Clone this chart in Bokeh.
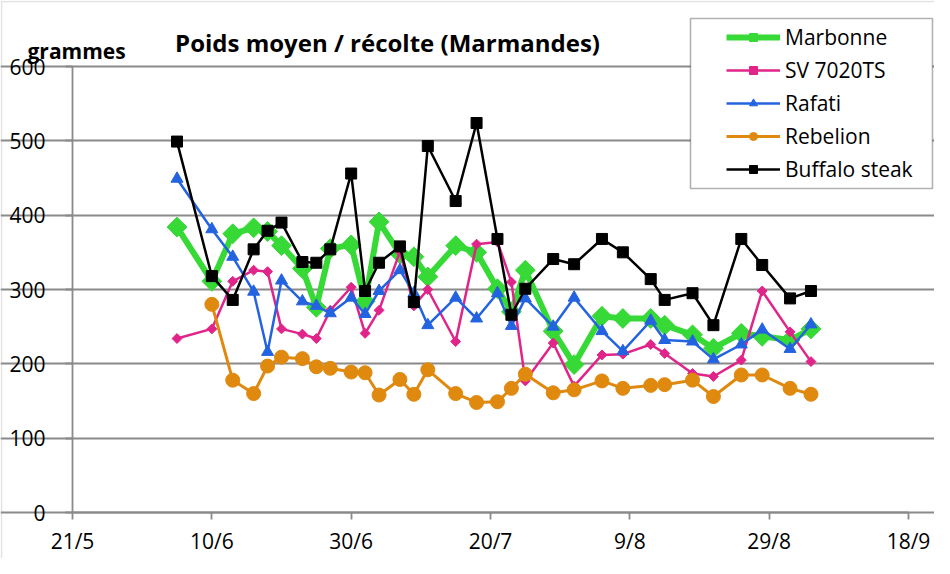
import numpy as np
import pandas as pd
from bokeh.plotting import figure
from bokeh.models import (Range1d, FixedTicker, CustomJSTickFormatter, Label,
                          Legend, BoxAnnotation)
from bokeh.embed import file_html
from bokeh.resources import INLINE

YEAR = "2014"

dates = ["5/6", "10/6", "13/6", "16/6", "18/6", "20/6", "23/6", "25/6", "27/6", "30/6",
         "2/7", "4/7", "7/7", "9/7", "11/7", "15/7", "18/7", "21/7", "23/7", "25/7",
         "29/7", "1/8", "5/8", "8/8", "12/8", "14/8", "18/8", "21/8", "25/8", "28/8",
         "1/9", "4/9"]

marbonne = [384, 311, 375, 383, 378, 359, 328, 276, 355, 360,
            284, 391, 348, 344, 317, 359, 350, 301, 270, 326,
            244, 199, 264, 261, 261, 252, 239, 221, 241, 237,
            232, 247]

sv7020ts = [234, 247, 311, 326, 324, 247, 240, 234, 272, 303,
            241, 272, 351, 278, 300, 230, 361, 364, 310, 177,
            228, 170, 212, 213, 226, 214, 187, 183, 205, 298,
            243, 203]

rafati = [449, 381, 344, 297, 216, 312, 284, 278, 268, 289,
          267, 298, 326, 295, 252, 289, 261, 295, 251, 288,
          250, 289, 244, 217, 258, 232, 230, 206, 226, 246,
          220, 253]

rebelion_dates = dates[1:]
rebelion = [280, 178, 160, 197, 209, 207, 196, 194, 189,
            188, 158, 179, 159, 192, 160, 148, 149, 167, 186,
            161, 165, 177, 167, 171, 172, 178, 156, 185, 185,
            167, 159]

buffalo = [499, 318, 286, 354, 379, 390, 337, 336, 354, 456,
           298, 336, 358, 283, 493, 419, 524, 368, 266, 301,
           341, 334, 368, 350, 314, 286, 295, 252, 368, 333,
           288, 298]

x_ticks = ["21/5", "10/6", "30/6", "20/7", "9/8", "29/8", "18/9"]
y_ticks = [0, 100, 200, 300, 400, 500, 600]


def to_dt(lst):
    return pd.to_datetime([s + "/" + YEAR for s in lst], format="%d/%m/%Y")


xd = to_dt(dates)
xr = to_dt(rebelion_dates)
xt = to_dt(x_ticks)
tick_ms = [float(t.value // 10**6) for t in xt]

# ---- layout (pixels in the canvas) ----
W, H = 934, 558
PL, PR, PT, PB = 72, 908, 66, 512          # plot area edges
x0, x1 = tick_ms[0], tick_ms[-1]
y0, y1 = y_ticks[0], y_ticks[-1]
sx = (x1 - x0) / (PR - PL)
sy = (y1 - y0) / (PB - PT)
x_range = Range1d(x0 - PL * sx, x1 + (W - PR) * sx)
y_range = Range1d(y0 - (H - PB) * sy, y1 + PT * sy)

FONT = "Open Sans"
GRAY = "#8a8a8a"

p = figure(width=W, height=H, output_backend="svg", toolbar_location=None,
           x_axis_type="datetime", x_range=x_range, y_range=y_range,
           min_border_left=0, min_border_right=0, min_border_top=0,
           min_border_bottom=0)
p.outline_line_color = None
p.background_fill_color = "white"
p.border_fill_color = "white"

p.xgrid.visible = False
p.ygrid.grid_line_color = GRAY
p.ygrid.grid_line_width = 1.8
p.ygrid.bounds = (x0, x1)
p.yaxis.ticker = FixedTicker(ticks=y_ticks)
p.xaxis.ticker = FixedTicker(ticks=tick_ms)
p.ygrid.ticker = FixedTicker(ticks=y_ticks)
p.xaxis.formatter = CustomJSTickFormatter(
    code="const d = new Date(tick); return d.getUTCDate() + '/' + (d.getUTCMonth() + 1);")

p.xaxis.fixed_location = y0
p.yaxis.fixed_location = x0
p.xaxis.bounds = (x0, x1)
p.yaxis.bounds = (y0, y1)

for ax in (p.xaxis[0], p.yaxis[0]):
    ax.axis_line_color = GRAY
    ax.axis_line_width = 1.8
    ax.major_tick_line_color = GRAY
    ax.major_tick_line_width = 1.8
    ax.major_tick_out = 7
    ax.major_tick_in = 0
    ax.minor_tick_line_color = None
    ax.major_label_text_font = FONT
    ax.major_label_text_font_size = "21px"
    ax.major_label_text_color = "black"
p.yaxis.major_label_standoff = 20
p.xaxis.major_label_standoff = 7

# outer chart border (left/top visible inside canvas)
outer = BoxAnnotation(left=1, right=W + 40, top=H - 1, bottom=-40,
                      left_units="screen", right_units="screen",
                      top_units="screen", bottom_units="screen",
                      fill_alpha=0, line_color="#a0a0a0", line_width=1.5,
                      level="underlay")
p.add_layout(outer)

series = [
    ("Marbonne", xd, marbonne, "#36d936", 6, "square", 14, np.pi / 4),
    ("SV 7020TS", xd, sv7020ts, "#e0248a", 2.5, "square", 7, np.pi / 4),
    ("Rafati", xd, rafati, "#2463e0", 2.5, "triangle", 12, 0),
    ("Rebelion", xr, rebelion, "#e0890f", 3, "circle", 14, 0),
    ("Buffalo steak", xd, buffalo, "black", 2.5, "square", 11, 0),
]

items = []
for name, xs, ys, col, lw, mk, sz, ang in series:
    r1 = p.line(xs, ys, line_color=col, line_width=lw)
    r2 = p.scatter(xs, ys, marker=mk, size=sz, angle=ang, fill_color=col, line_color=col)
    items.append((name, [r1, r2]))

# legend box
box = BoxAnnotation(left=690, right=W - 2, top=H - 18, bottom=H - 188,
                    left_units="screen", right_units="screen",
                    top_units="screen", bottom_units="screen",
                    fill_color="white", fill_alpha=1.0,
                    line_color="black", line_width=1.6, level="overlay")
p.add_layout(box)

legend = Legend(items=items, location=(726, H - 183), padding=0,
                border_line_color=None, background_fill_alpha=0,
                glyph_width=54, glyph_height=20, label_height=20,
                label_standoff=5, spacing=5,
                label_text_font=FONT, label_text_font_size="21px",
                label_text_color="black")
p.add_layout(legend, "center")

title = Label(x=387, y=H - 42, x_units="screen", y_units="screen",
              text="Poids moyen / récolte (Marmandes)", text_font=FONT,
              text_font_size="24px", text_font_style="bold",
              text_align="center", text_baseline="middle", text_color="black")
p.add_layout(title)

ylab = Label(x=27, y=H - 50, x_units="screen", y_units="screen",
             text="grammes", text_font=FONT, text_font_size="21px",
             text_font_style="bold", text_align="left", text_baseline="middle",
             text_color="black")
p.add_layout(ylab)

open("out.html", "w").write(file_html(p, INLINE))
